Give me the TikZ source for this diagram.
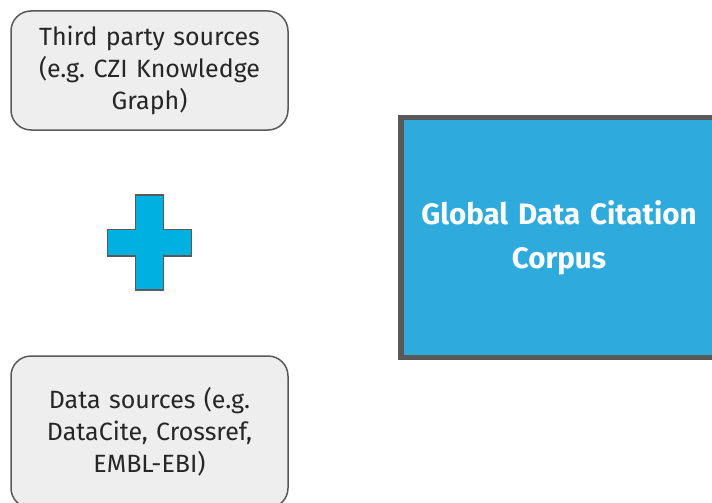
\documentclass[tikz,border=0pt]{standalone}
\usepackage{fontspec}
\setmainfont{Fira Sans}
\frenchspacing
\newlength{\du}
\setlength{\du}{1pt}
\definecolor{boxgray}{HTML}{EEEEEE}
\definecolor{edgegray}{HTML}{595959}
\definecolor{plusblue}{HTML}{00B0E0}
\definecolor{corpusblue}{HTML}{2EABDC}
\tikzset{
  sourcebox/.style={draw=edgegray, fill=boxgray, line width=1.5\du, rounded corners=20\du,
    minimum width=277\du, text width=268\du, align=center, text=black!85,
    font=\fontsize{25\du}{32\du}\selectfont},
  corpusbox/.style={draw=edgegray, fill=corpusblue, line width=5.5\du,
    minimum width=316\du, minimum height=240\du, text width=305\du, align=center, text=white,
    font=\bfseries\fontsize{29.5\du}{44\du}\selectfont},
}

\begin{document}
\begin{tikzpicture}
\pgftransformyscale{-1.000000}
\useasboundingbox (0\du,0\du) rectangle (712\du,503\du);
\clip (0\du,0\du) rectangle (712\du,503\du);
% sources
\node[sourcebox, minimum height=119\du] (third) at (149.5\du,70.5\du){Third party sources\\(e.g. CZI Knowledge\\Graph)};
\node[sourcebox, minimum height=152\du] (datasrc) at (149.5\du,432\du){Data sources (e.g.\\DataCite, Crossref,\\EMBL-EBI)};
% plus sign
\draw[draw=edgegray, fill=plusblue, line width=1.5\du]
  (135.7\du,195\du)--(163.3\du,195\du)--(163.3\du,229.3\du)--(191.7\du,229.3\du)
  --(191.7\du,256\du)--(163.3\du,256\du)--(163.3\du,290\du)--(135.7\du,290\du)
  --(135.7\du,256\du)--(107.3\du,256\du)--(107.3\du,229.3\du)--(135.7\du,229.3\du)--cycle;
% corpus
\node[corpusbox] (corpus) at (559\du,237.5\du){Global Data Citation\\Corpus};
\end{tikzpicture}
\end{document}
